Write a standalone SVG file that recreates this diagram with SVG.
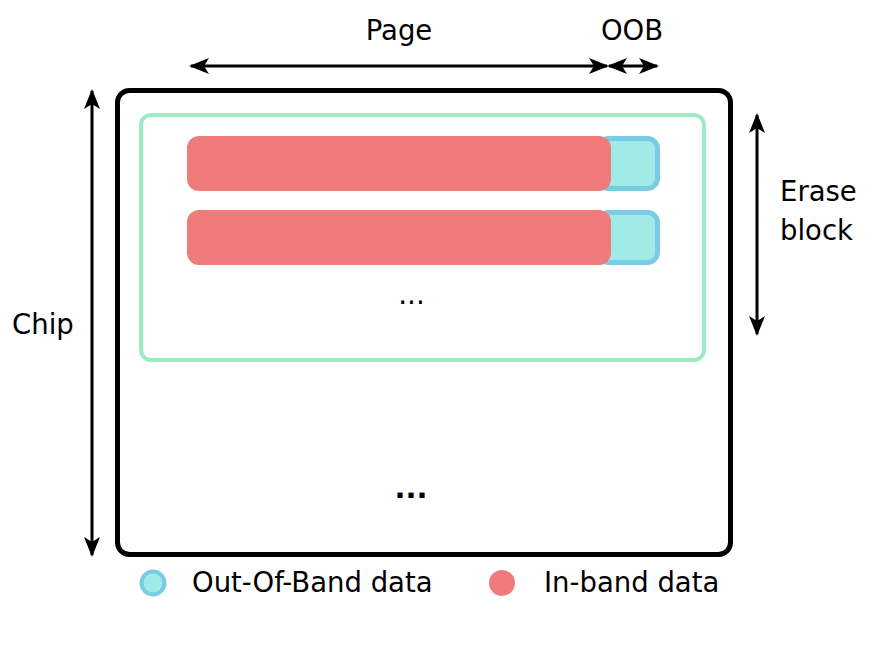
<svg xmlns="http://www.w3.org/2000/svg" width="878" height="654" viewBox="0 0 878 654">
<style>
text{font-family:"DejaVu Sans",sans-serif;font-size:27.5px;fill:#000}
.arr{stroke:#000;stroke-width:3;fill:none;marker-start:url(#ah);marker-end:url(#ah)}
.red{fill:#F07B7B}
.oob{fill:#A0EAE8;stroke:#7ACCE4;stroke-width:5}
</style>
<defs>
<marker id="ah" viewBox="0 0 20 16" refX="18" refY="8" markerWidth="20" markerHeight="16" markerUnits="userSpaceOnUse" orient="auto-start-reverse">
<path d="M0,0 L20,8 L0,16 L5,8 Z" fill="#000"/>
</marker>
</defs>
<g id="chip"><rect x="117.5" y="90.5" width="613" height="464" rx="12" fill="none" stroke="#000" stroke-width="5"/></g>
<g id="eraseblock"><rect x="141" y="115" width="563" height="245" rx="10" fill="none" stroke="#9DEBC4" stroke-width="4"/></g>
<g id="page1">
<rect class="oob" x="598.5" y="138.5" width="59" height="50" rx="10"/>
<rect class="red" x="187" y="136" width="424" height="55" rx="12"/>
</g>
<g id="page2">
<rect class="oob" x="598.5" y="212.5" width="59" height="50" rx="10"/>
<rect class="red" x="187" y="210" width="424" height="55" rx="12"/>
</g>
<g id="connectors">
<line class="arr" x1="191" y1="66" x2="607" y2="66"/>
<line class="arr" x1="609" y1="66" x2="657" y2="66"/>
<line class="arr" x1="92" y1="91" x2="92" y2="555"/>
<line class="arr" x1="757" y1="115" x2="757" y2="334"/>
</g>
<g id="labels">
<text x="399" y="40" text-anchor="middle">Page</text>
<text x="632" y="40" text-anchor="middle">OOB</text>
<text x="780" y="201">Erase</text>
<text x="780" y="240">block</text>
<text x="12" y="334">Chip</text>
<text x="411.5" y="304" text-anchor="middle" style="font-size:28px">...</text>
<text x="411" y="498" text-anchor="middle" style="font-size:29px;font-weight:bold">...</text>
</g>
<g id="legend">
<circle cx="153" cy="583" r="11.5" fill="#A0EAE8" stroke="#7ACCE4" stroke-width="4"/>
<text x="192" y="592">Out-Of-Band data</text>
<circle cx="502" cy="583" r="13" fill="#F07B7B"/>
<text x="544" y="592">In-band data</text>
</g>
</svg>
